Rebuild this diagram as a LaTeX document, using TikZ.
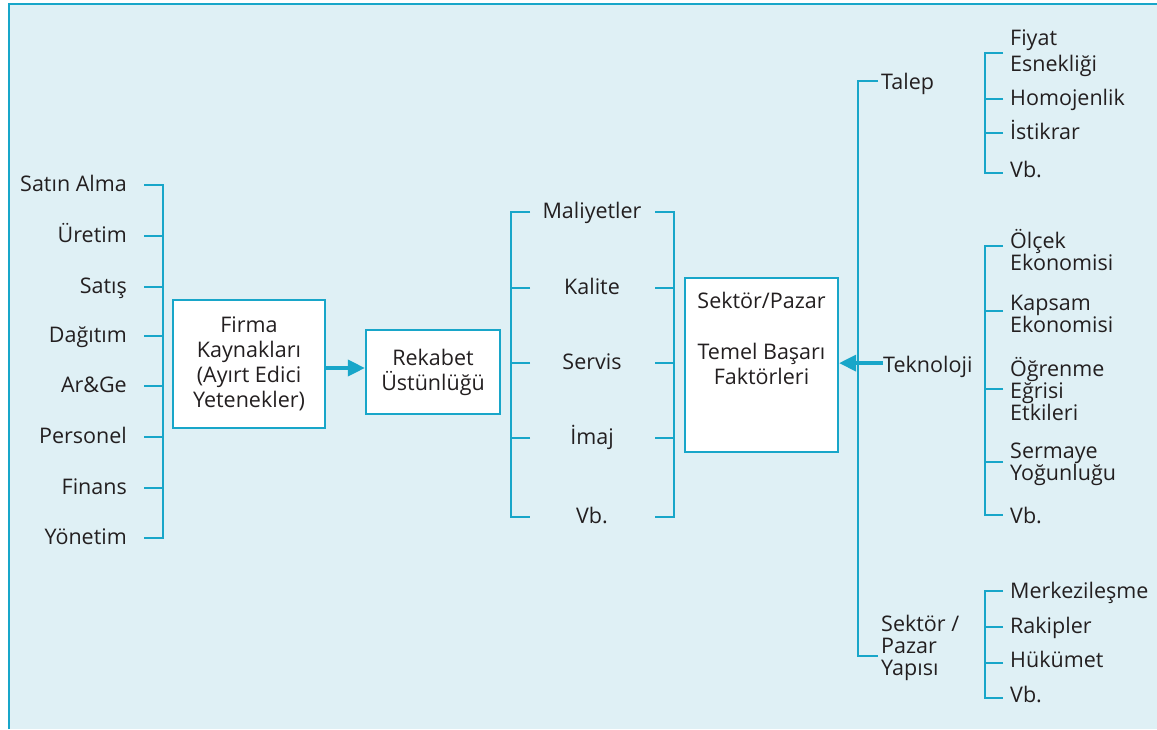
\documentclass[tikz,border=0pt]{standalone}
\usepackage{fontspec}
\setmainfont{Open Sans}
\usetikzlibrary{arrows.meta}
\definecolor{panel}{HTML}{DFF0F5}
\definecolor{rule}{HTML}{18A6C9}
\definecolor{ink}{HTML}{231F20}
\tikzset{
  lbl/.style={font=\fontsize{21.5}{22}\selectfont, text=ink, inner sep=0pt},
  one/.style={lbl, yshift=-4pt},
  lblL/.style={lbl, align=left, anchor=west},
  link/.style={draw=rule, line width=1.5pt},
  box/.style={draw=rule, line width=2.2pt, fill=white, align=center, inner sep=0pt,
    font=\fontsize{21.5}{25}\selectfont, text=ink},
  flow/.style={draw=rule, line width=3.5pt, -{Triangle[length=17pt,width=16pt]}}
}
\begin{document}
\begin{tikzpicture}[x=1pt,y=-1pt]
\useasboundingbox (0,0) rectangle (1157,729);
% panel
\fill[white] (0,0) rectangle (1157,729);
\fill[panel] (9,4) rectangle (1157,729);
\draw[rule, line width=1.5pt] (9,729) -- (9,4) -- (1157,4);

% ---- resources list (left) ----
\foreach \n/\t/\y in {r1/Satın Alma/185, r2/Üretim/236, r3/Satış/287, r4/Dağıtım/336,
                      r5/Ar\&Ge/386, r6/Personel/437, r7/Finans/488, r8/Yönetim/538}{
  \node[one, anchor=mid east] (\n) at (127,\y) {\t};
  \coordinate (\n t) at (144,\y);
}
\coordinate (rspine) at (163,0);
\draw[link] (r1t) -| (r8t -| rspine) -- (r8t);
\foreach \n in {r2,r3,r4,r5,r6,r7}{ \draw[link] (\n t) -- (\n t -| rspine); }

% ---- main boxes ----
\node[box, minimum width=152pt, minimum height=128pt] (firma) at (249,364)
  {Firma\\Kaynakları\\(Ayırt Edici\\Yetenekler)};
\node[box, minimum width=134pt, minimum height=84pt] (rek) at (433,372)
  {Rekabet\\Üstünlüğü};
\node[box, minimum width=153pt, minimum height=174pt] (tbf) at (761.5,365)
  {Sektör/Pazar\\[26pt]Temel Başarı\\Faktörleri\\[28pt]\mbox{}};
\draw[flow] ([yshift=-4pt]firma.east) -- ([yshift=-4pt]firma.east -| rek.west);

% ---- advantage list (middle) ----
\foreach \n/\t/\y in {a1/Maliyetler/212, a2/Kalite/288, a3/Servis/363, a4/İmaj/438, a5/Vb./517}{
  \node[one, anchor=mid] (\n) at (592,\y) {\t};
  \coordinate (\n l) at (530,\y);
  \coordinate (\n r) at (655,\y);
}
\coordinate (aspL) at (511,0);
\coordinate (aspR) at (674,0);
\draw[link] (a1l) -| (a5l -| aspL) -- (a5l);
\draw[link] (a1r) -| (a5r -| aspR) -- (a5r);
\foreach \n in {a2,a3,a4}{
  \draw[link] (\n l) -- (\n l -| aspL);
  \draw[link] (\n r) -- (\n r -| aspR);
}

% ---- factor groups (right) ----
\coordinate (fsp) at (858,0);
\node[one, anchor=mid west] (talep) at (881,83) {Talep};
\node[one, anchor=mid west] (tekno) at (883,366) {Teknoloji};
\node[lblL] (yapi) at (881,648) {Sektör /\\Pazar\\Yapısı};
\coordinate (talept) at (878,81);
\coordinate (yapit) at (878,656);
\draw[link] (talept) -| (yapit -| fsp) -- (yapit);
\draw[flow] ([yshift=4pt]tekno.west) -- ([yshift=4pt]tekno.west -| tbf.east);

\coordinate (gsp) at (985,0);
% demand
\node[lbl, align=left, anchor=west, font=\fontsize{21.5}{26}\selectfont] (d1) at (1010,53) {Fiyat\\Esnekliği};
\node[one, anchor=mid west] (d2) at (1010,99) {Homojenlik};
\node[one, anchor=mid west] (d3) at (1010,133) {İstikrar};
\node[one, anchor=mid west] (d4) at (1010,171) {Vb.};
\coordinate (d1t) at (1003,53);
\coordinate (d2t) at (1003,99);
\coordinate (d3t) at (1003,133);
\coordinate (d4t) at (1003,173);
\draw[link] (d1t) -| (d4t -| gsp) -- (d4t);
\foreach \n in {d2,d3}{ \draw[link] (\n t) -- (\n t -| gsp); }

% technology
\node[lblL] (t1) at (1010,250) {Ölçek\\Ekonomisi};
\node[lblL] (t2) at (1010,314) {Kapsam\\Ekonomisi};
\node[lblL] (t3) at (1010,389) {Öğrenme\\Eğrisi\\Etkileri};
\node[lblL] (t4) at (1010,464) {Sermaye\\Yoğunluğu};
\node[one, anchor=mid west] (t5) at (1010,517) {Vb.};
\coordinate (t1t) at (1003,246);
\coordinate (t2t) at (1003,311);
\coordinate (t3t) at (1003,389);
\coordinate (t4t) at (1003,462);
\coordinate (t5t) at (1003,515);
\draw[link] (t1t) -| (t5t -| gsp) -- (t5t);
\foreach \n in {t2,t3,t4}{ \draw[link] (\n t) -- (\n t -| gsp); }

% market structure
\node[one, anchor=mid west] (s1) at (1010,592) {Merkezileşme};
\node[one, anchor=mid west] (s2) at (1010,627) {Rakipler};
\node[one, anchor=mid west] (s3) at (1010,661) {Hükümet};
\node[one, anchor=mid west] (s4) at (1010,696) {Vb.};
\coordinate (s1t) at (1003,591);
\coordinate (s2t) at (1003,627);
\coordinate (s3t) at (1003,663);
\coordinate (s4t) at (1003,698);
\draw[link] (s1t) -| (s4t -| gsp) -- (s4t);
\foreach \n in {s2,s3}{ \draw[link] (\n t) -- (\n t -| gsp); }
\end{tikzpicture}
\end{document}
